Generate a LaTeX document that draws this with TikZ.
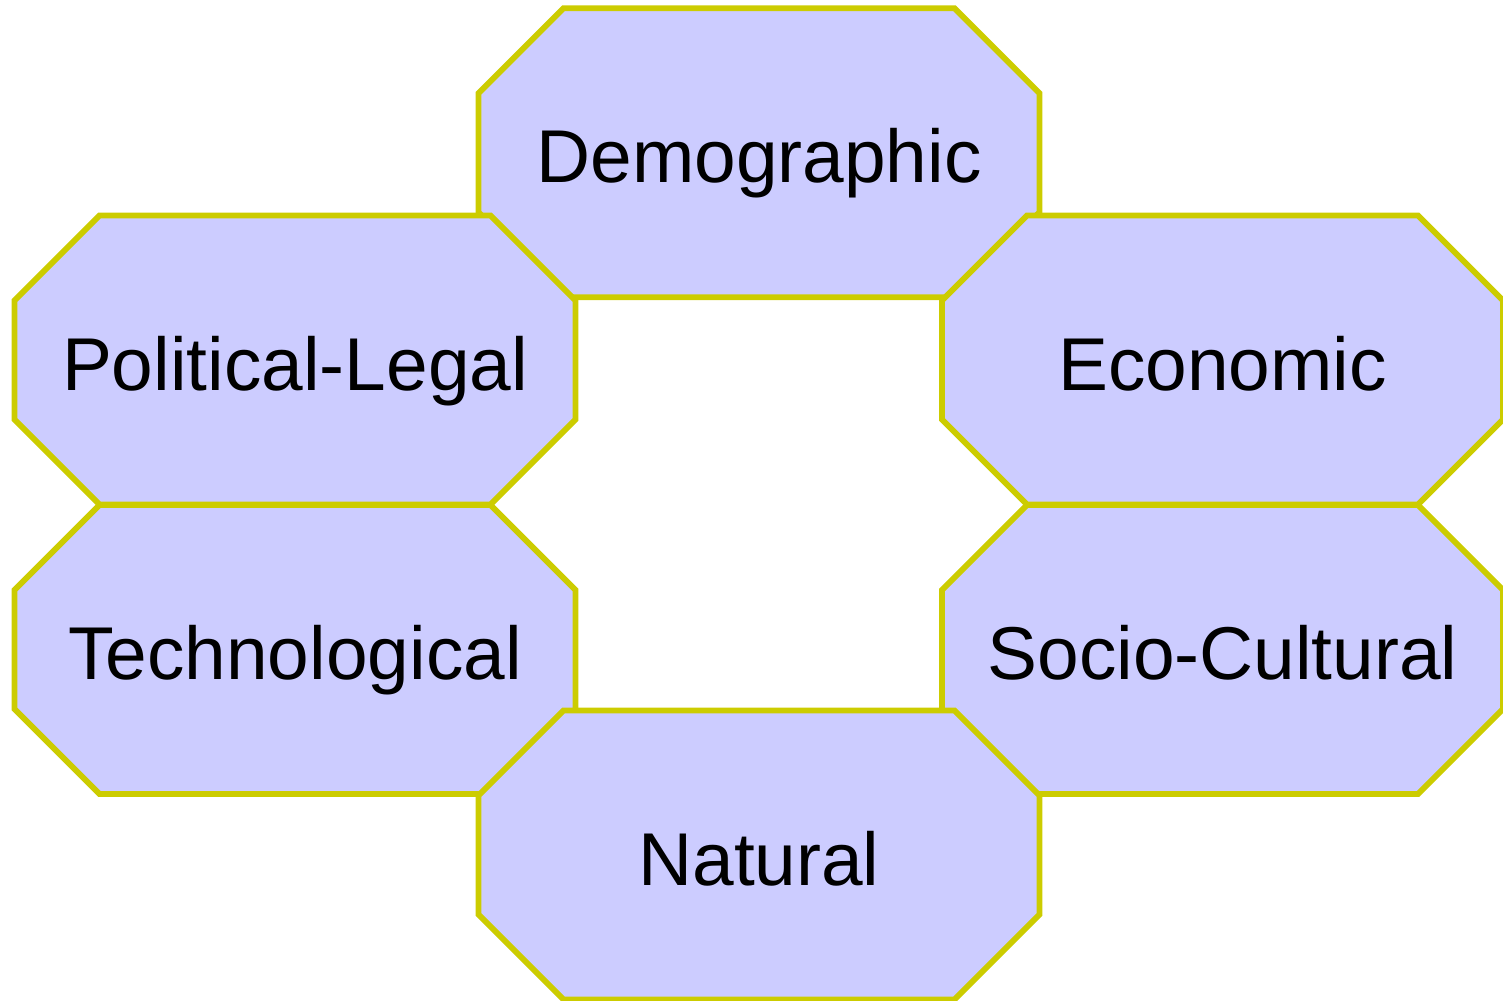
\documentclass[tikz,border=0pt]{standalone}
\usepackage{fontspec}
\setmainfont{Liberation Sans}
\usepackage{tikz}

\definecolor{octofill}{HTML}{CCCCFF}
\definecolor{octoline}{HTML}{CCCC00}

% octagon with its label: name, x, y, text
\newcommand{\drawfactor}[4]{%
  \filldraw[octo, shift={(#2,#3)}] (-280.5,-59.5) -- (-195.5,-144.5) -- (195.5,-144.5) -- (280.5,-59.5)
    -- (280.5,59.5) -- (195.5,144.5) -- (-195.5,144.5) -- (-280.5,59.5) -- cycle;
  \node[factor] (#1) at (#2,#3+30) {#4};
}

\begin{document}
\begin{tikzpicture}[
    x=0.02cm, y=-0.02cm,
    octo/.style={fill=octofill, draw=octoline, line width=0.115cm, line join=miter},
    factor/.style={anchor=base, inner sep=0pt, font=\fontsize{42.6}{50}\selectfont}
]
    \useasboundingbox (0,0) rectangle (1503,1000);

    \drawfactor{demo}{759}{152.75}{Demographic}
    \drawfactor{pol}{295}{360}{Political-Legal}
    \drawfactor{econ}{1222.5}{360}{Economic}
    \drawfactor{tech}{295}{649.5}{Technological}
    \drawfactor{soc}{1222.5}{649.5}{Socio-Cultural}
    \drawfactor{nat}{759}{855}{Natural}
\end{tikzpicture}
\end{document}
